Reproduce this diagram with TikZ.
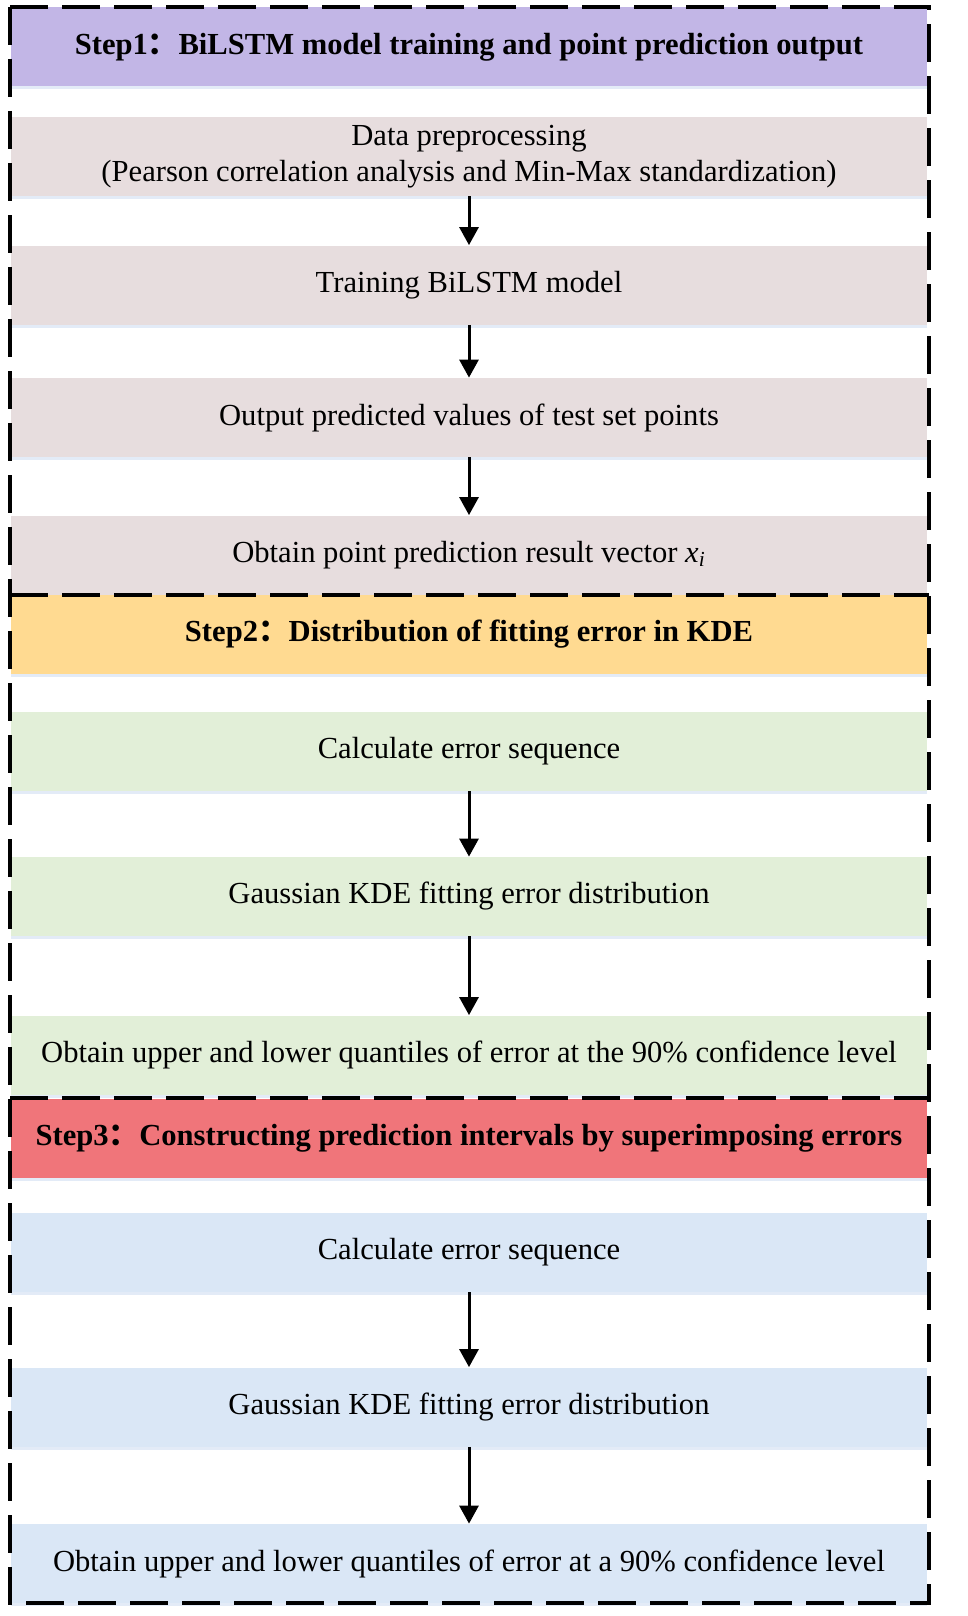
\documentclass[tikz,border=0pt]{standalone}
\usepackage{fontspec}
\setmainfont{Liberation Serif}
\newfontfamily\cjk{Noto Sans CJK SC}
\usetikzlibrary{arrows.meta,shadows}

\begin{document}
\begin{tikzpicture}[
        x=0.5pt, y=-0.5pt,
        step_box/.style={rectangle, minimum width=458pt, minimum height=39.5pt, inner sep=0pt, align=center,
            font=\fontsize{15.3}{18}\selectfont,
            drop shadow={shadow xshift=0pt, shadow yshift=-1.5pt, fill=myshadow, opacity=0.5}},
        head_box/.style={step_box, font=\fontsize{15.3}{18}\selectfont\bfseries},
        flow/.style={line width=1.5pt, -{Triangle[width=9.5pt, length=9pt]}},
        frame/.style={line width=2.2pt, dash pattern=on 19pt off 7pt}
    ]

        \definecolor{mypurple}{RGB}{194, 182, 230}
        \definecolor{mygrey}{RGB}{231, 221, 222}
        \definecolor{myorange}{RGB}{255, 218, 145}
        \definecolor{mygreen}{RGB}{226, 239, 216}
        \definecolor{myred}{RGB}{240, 117, 122}
        \definecolor{myblue}{RGB}{218, 231, 246}
        \definecolor{myshadow}{RGB}{200, 215, 240}

        \useasboundingbox (0, 0) rectangle (968, 1616);

        % Step 1
        \node[head_box, fill=mypurple] (h1) at (469, 47) {Step1{\cjk ：}BiLSTM model training and point prediction output};
        \node[step_box, fill=mygrey] (b1) at (469, 156.5) {Data preprocessing\\(Pearson correlation analysis and Min-Max standardization)};
        \node[step_box, fill=mygrey] (b2) at (469, 285) {Training BiLSTM model};
        \node[step_box, fill=mygrey] (b3) at (469, 417.5) {Output predicted values of test set points};
        \node[step_box, fill=mygrey] (b4) at (469, 555) {Obtain point prediction result vector \textit{x\textsubscript{i}}};

        % Step 2
        \node[head_box, fill=myorange] (h2) at (469, 634) {Step2{\cjk ：}Distribution of fitting error in KDE};
        \node[step_box, fill=mygreen] (b5) at (469, 751.5) {Calculate error sequence};
        \node[step_box, fill=mygreen] (b6) at (469, 896.5) {Gaussian KDE fitting error distribution};
        \node[step_box, fill=mygreen] (b7) at (469, 1055) {Obtain upper and lower quantiles of error at the 90\% confidence level};

        % Step 3
        \node[head_box, fill=myred] (h3) at (469, 1138.5) {Step3{\cjk ：}Constructing prediction intervals by superimposing errors};
        \node[step_box, fill=myblue] (b8) at (469, 1252.5) {Calculate error sequence};
        \node[step_box, fill=myblue] (b9) at (469, 1407) {Gaussian KDE fitting error distribution};
        \node[step_box, fill=myblue] (b10) at (469, 1563.5) {Obtain upper and lower quantiles of error at a 90\% confidence level};

        \draw[flow] (b1) -- (b2);
        \draw[flow] (b2) -- (b3);
        \draw[flow] (b3) -- (b4);
        \draw[flow] (b5) -- (b6);
        \draw[flow] (b6) -- (b7);
        \draw[flow] (b8) -- (b9);
        \draw[flow] (b9) -- (b10);

        \draw[frame] (10, 7) rectangle (929, 1603);
        \draw[frame] (10, 595) -- (929, 595);
        \draw[frame] (10, 1098) -- (929, 1098);
    \end{tikzpicture}
\end{document}
